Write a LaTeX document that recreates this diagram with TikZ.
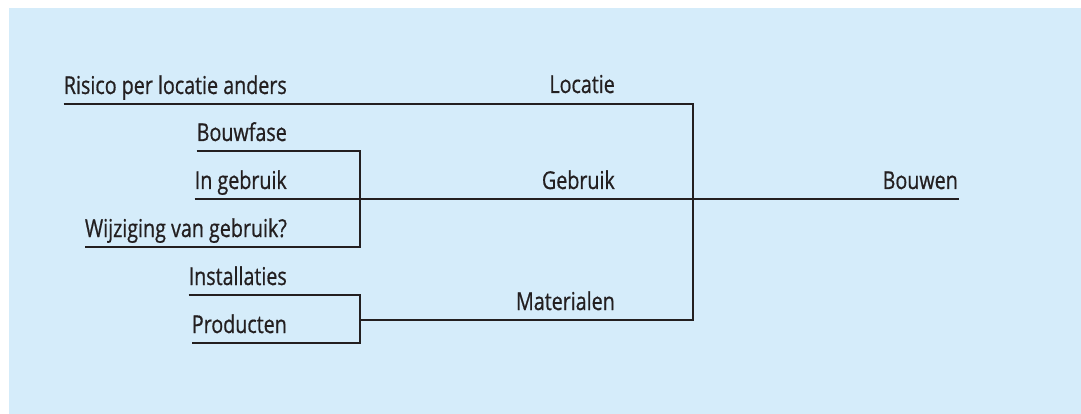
\documentclass[tikz,border=0pt]{standalone}
\usepackage{fontspec}
\setmainfont{Open Sans}[FakeStretch=0.8,FakeBold=0.7]
\definecolor{bg}{RGB}{213,236,250}
\definecolor{ink}{RGB}{35,31,32}
\begin{document}
\begin{tikzpicture}[x=1pt,y=-1pt,
  lbl/.style={anchor=base east,inner sep=0pt,text=ink,font=\fontsize{24.6}{26}\selectfont},
  wire/.style={draw=ink,line width=2.4pt,line join=miter}]
\useasboundingbox (0,0) rectangle (1081,414);
\fill[bg] (9,8) rectangle (1081,414);
% left labels
\node[lbl] (ris) at (287,94) {Risico per locatie anders};
\node[lbl] (bouwf) at (287,141) {Bouwfase};
\node[lbl] (ingeb) at (287,189) {In gebruik};
\node[lbl] (wijz) at (287,237) {Wijziging van gebruik?};
\node[lbl] (inst) at (287,285) {Installaties};
\node[lbl] (prod) at (287,333) {Producten};
% middle labels
\node[lbl] (loc) at (615,93) {Locatie};
\node[lbl] (gebr) at (615,189) {Gebruik};
\node[lbl] (mat) at (615,310) {Materialen};
\node[lbl] (bouwen) at (958,189) {Bouwen};
% junctions
\coordinate (gtop) at (360,151);
\coordinate (gbot) at (360,247);
\coordinate (mtop) at (360,295);
\coordinate (mbot) at (360,343);
\coordinate (mmid) at (360,320);
\coordinate (ltop) at (693,104);
\coordinate (lbot) at (693,320);
\coordinate (bend) at (959,199);
% connectors
\draw[wire] ([yshift=-10pt]ris.base west) -- (ltop) -- (lbot) -- (mmid);
\draw[wire] ([yshift=-10pt]bouwf.base west) -- (gtop) -- (gbot) -- ([yshift=-10pt]wijz.base west);
\draw[wire] ([yshift=-10pt]ingeb.base west) -- (bend);
\draw[wire] ([yshift=-10pt]inst.base west) -- (mtop) -- (mbot) -- ([yshift=-10pt]prod.base west);
\end{tikzpicture}
\end{document}
